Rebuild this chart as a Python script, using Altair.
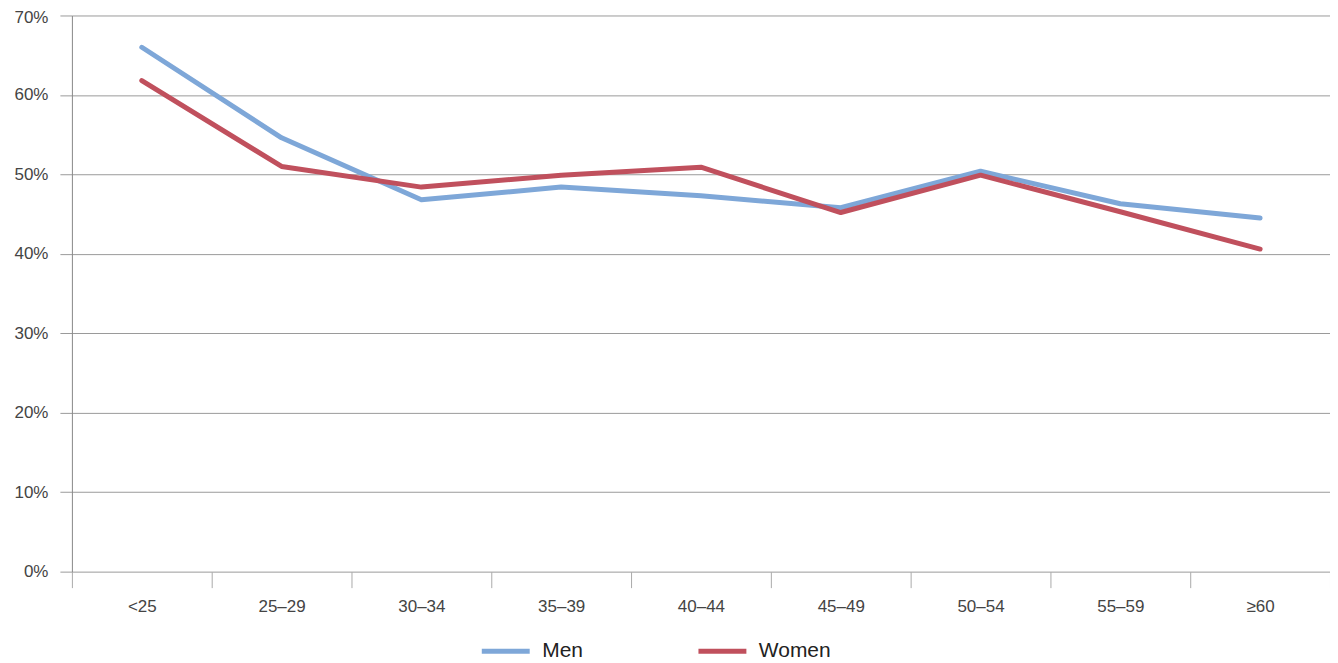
import altair as alt
import pandas as pd

categories = ["<25", "25–29", "30–34", "35–39", "40–44", "45–49", "50–54", "55–59", "≥60"]
men = [66.0, 54.6, 46.8, 48.4, 47.3, 45.8, 50.4, 46.3, 44.5]
women = [61.8, 51.0, 48.4, 49.9, 50.9, 45.2, 49.9, 45.3, 40.6]
series = ["Men", "Women"]
colors = ["#7ea7d8", "#c0505d"]
y_ticks = [0, 0.1, 0.2, 0.3, 0.4, 0.5, 0.6, 0.7]

rows = []
for i, c in enumerate(categories):
    rows.append({"idx": i, "age": c, "group": "Men", "value": men[i] / 100})
    rows.append({"idx": i, "age": c, "group": "Women", "value": women[i] / 100})
df = pd.DataFrame(rows)

edges = [i - 0.5 for i in range(len(categories) + 1)]
label_array = "[" + ",".join("'" + c + "'" for c in categories) + "]"
label_expr = f"datum.value < {len(categories) - 1} ? {label_array}[round(datum.value + 0.5)] : ''"

font = "Liberation Sans"

chart = alt.Chart(df).mark_line(strokeWidth=5, strokeCap="round", strokeJoin="round").encode(
    x=alt.X("idx:Q",
            scale=alt.Scale(domain=[-0.5, len(categories) - 0.5], nice=False, zero=False),
            axis=alt.Axis(values=edges, labelExpr=label_expr, labelOffset=70,
                          title=None, grid=False, domain=False,
                          tickColor="#aaaaaa", tickSize=16, tickWidth=1,
                          labelPadding=11, labelFontSize=17, labelColor="#444444",
                          labelFont=font, labelAlign="center", labelFlush=False,
                          labelOverlap=False)),
    y=alt.Y("value:Q",
            scale=alt.Scale(domain=[0, 0.7], nice=False),
            axis=alt.Axis(values=y_ticks, format=".0%", title=None,
                          grid=True, gridColor="#9a9a9a", gridWidth=1,
                          domain=True, domainColor="#888888",
                          tickColor="#9a9a9a", tickSize=12,
                          labelPadding=12, labelFontSize=17, labelColor="#444444",
                          labelFont=font, labelFlush=False,
                          labelOffset={"condition": {"test": "datum.value >= 0.69", "value": 2}, "value": 0})),
    color=alt.Color("group:N",
                    scale=alt.Scale(domain=series, range=colors),
                    legend=alt.Legend(title=None, orient="none", direction="horizontal",
                                      legendX=408, legendY=610,
                                      symbolType="stroke", symbolSize=2304,
                                      symbolStrokeWidth=5, labelFontSize=21,
                                      labelFont=font, labelColor="#222222",
                                      labelOffset=10, columnPadding=105, padding=0)),
    detail="group:N",
).properties(
    width=1260, height=557,
    autosize=alt.AutoSizeParams(type="none"),
    padding={"left": 64, "top": 7, "right": 0, "bottom": 88},
).configure_view(stroke=None)

chart.save("out.html", embed_options={"renderer": "svg", "actions": False})
